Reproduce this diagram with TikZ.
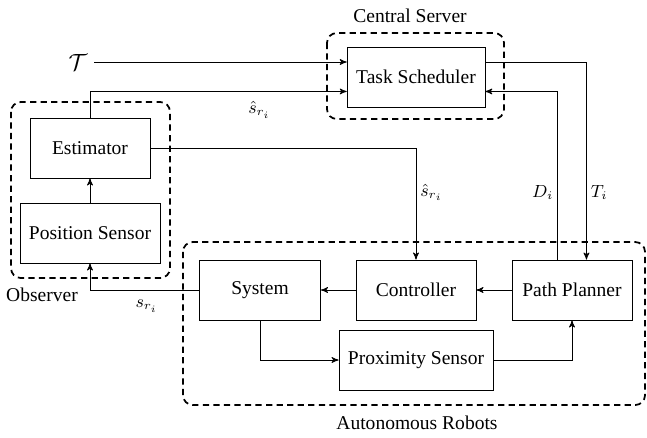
\documentclass[tikz,border=0pt]{standalone}
\usepackage{fontspec}
\setmainfont{Liberation Serif}
\usetikzlibrary{arrows}

\begin{document}
\begin{tikzpicture}[x=0.18mm, y=-0.18mm]
    \tikzstyle{Edge} = [
            draw=black,
            line width=0.4pt,
            >=stealth'
    ];
    \tikzstyle{EdgeLabel} = [
            font={\small},
            inner sep=2pt
    ];
    \tikzstyle{Block} = [
            draw=black,
            line width=0.4pt,
            rectangle,
            minimum height=10.8mm,
            minimum width=21.6mm,
            text centered,
            font={\normalsize}
    ];
    \tikzstyle{Group} = [
            draw=black,
            line width=0.9pt,
            dash pattern=on 3.2pt off 2.2pt,
            rounded corners=5pt
    ];
    \tikzstyle{GroupLabel} = [
            font={\normalsize}
    ];

    \useasboundingbox (0,0) rectangle (647,437);

    % groups
    \draw[Group] (327,33)  rectangle (504,119);
    \draw[Group] (11,102)  rectangle (170,278);
    \draw[Group] (183,242) rectangle (645,405);
    \node[GroupLabel, name=CSlabel] at (410,16)  {Central Server};
    \node[GroupLabel, name=OBlabel] at (42,295)  {Observer};
    \node[GroupLabel, name=ARlabel] at (417,423) {Autonomous Robots};

    % blocks
    \node[Block, name=TS,   minimum width=24.8mm] at (416,77)  {Task Scheduler};
    \node[Block, name=Est]                        at (90,148)  {Estimator};
    \node[Block, name=PS,   minimum width=25.2mm] at (90,233)  {Position Sensor};
    \node[Block, name=Sys,  minimum width=21.8mm] at (260,290) {System};
    \node[Block, name=Ctrl]                       at (416,290) {Controller};
    \node[Block, name=PP]                         at (572,290) {Path Planner};
    \node[Block, name=Prox, minimum width=27.7mm] at (416,360) {Proximity Sensor};
    \node[name=Tau, font={\large}]                at (78,62)   {$\mathcal{T}$};

    \coordinate (TSinLo)  at ([yshift=-7.4pt]TS.west);
    \coordinate (TSoutHi) at ([yshift=7.7pt]TS.east);
    \coordinate (TSinHi)  at ([yshift=-7.4pt]TS.east);
    \coordinate (PPoutD)  at ([xshift=-7.4pt]PP.north);
    \coordinate (PPinT)   at ([xshift=7.4pt]PP.north);

    \path (Tau)      edge [Edge,->]                               (Tau -| TS.west);
    \draw[Edge,->] (Est.north) |- node[EdgeLabel, pos=0.83, below=3pt] {$\hat{s}_{r_i}$} (TSinLo);
    \draw[Edge,->] (Est.east)  -| node[EdgeLabel, pos=0.7, right]     {$\hat{s}_{r_i}$} (Ctrl.north);
    \draw[Edge,->] (TSoutHi)   -| node[EdgeLabel, pos=0.83, right]    {$T_i$}            (PPinT);
    \draw[Edge,->] (PPoutD)    |- node[EdgeLabel, pos=0.2, left]      {$D_i$}            (TSinHi);
    \draw[Edge,->] (PS.north)  -- (Est.south);
    \draw[Edge,->] (Sys.west)  -| node[EdgeLabel, pos=0.24, below=3pt] {$s_{r_i}$}      (PS.south);
    \draw[Edge,->] (Ctrl.west) -- (Sys.east);
    \draw[Edge,->] (PP.west)   -- (Ctrl.east);
    \draw[Edge,->] (Sys.south) |- (Prox.west);
    \draw[Edge,->] (Prox.east) -| (PP.south);
\end{tikzpicture}
\end{document}
